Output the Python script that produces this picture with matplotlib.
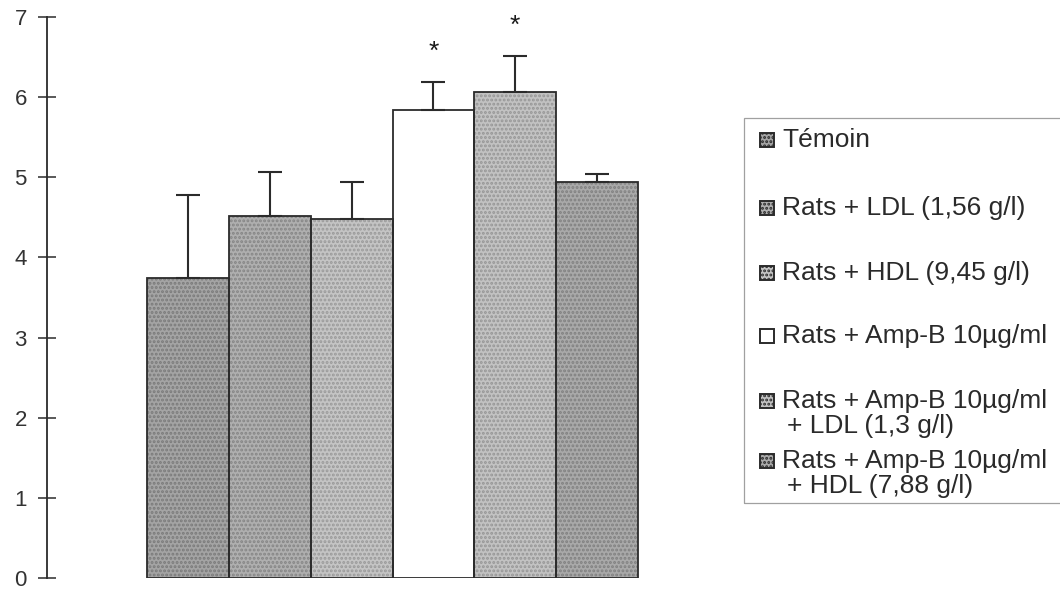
import matplotlib
matplotlib.use('Agg')
import matplotlib.pyplot as plt
from matplotlib.patches import Rectangle

# Groups, means and SEM (upper error only)
groups = ['Témoin',
          'Rats + LDL (1,56 g/l)',
          'Rats + HDL (9,45 g/l)',
          'Rats + Amp-B 10µg/ml',
          'Rats + Amp-B 10µg/ml\n+ LDL (1,3 g/l)',
          'Rats + Amp-B 10µg/ml\n+ HDL (7,88 g/l)']
means = [3.74, 4.52, 4.48, 5.84, 6.06, 4.94]
errors = [1.04, 0.55, 0.46, 0.35, 0.45, 0.10]
significant = [False, False, False, True, True, False]

# Grey stippled fills for each bar
fills = ['#a4a4a4', '#afafaf', '#c4c4c4', '#ffffff', '#c2c2c2', '#a9a9a9']
stipple = ['#7a7a7a', '#858585', '#999999', None, '#969696', '#808080']

y_ticks = [0, 1, 2, 3, 4, 5, 6, 7]

plt.rcParams['font.family'] = ['Liberation Sans', 'DejaVu Sans']
plt.rcParams['hatch.linewidth'] = 1.4

W, H = 1060, 592
fig = plt.figure(figsize=(W / 100, H / 100), dpi=100)
ax = fig.add_axes([47 / W, 14 / H, 653 / W, 561 / H])

x = list(range(len(means)))
ink = '#2b2b2b'

# stippled fill first, then the outline on top
for i in x:
    ax.bar(i, means[i], width=1.0, color=fills[i], linewidth=0,
           hatch='....' if stipple[i] else None,
           edgecolor=stipple[i] if stipple[i] else fills[i], zorder=2)
ax.bar(x, means, width=1.0, fill=False, edgecolor=ink, linewidth=1.3, zorder=3)

ax.errorbar(x, means, yerr=[[0] * len(errors), errors], fmt='none',
            ecolor=ink, elinewidth=1.5, capsize=8.5, capthick=1.5, zorder=4)

for i in x:
    if significant[i]:
        ax.text(i, means[i] + errors[i] + 0.38, '*', ha='center', va='center',
                fontsize=19, color='#1a1a1a')

ax.set_xlim(-1.724, 6.259)
ax.set_ylim(0, 7)
ax.set_yticks(y_ticks)
ax.set_xticks([])
for side in ['top', 'right', 'bottom']:
    ax.spines[side].set_visible(False)
ax.spines['left'].set_color(ink)
ax.spines['left'].set_linewidth(1.3)
ax.tick_params(axis='y', direction='inout', length=13, width=1.1, color=ink,
               labelsize=16, labelcolor='#333333', pad=8)

# legend box drawn in figure pixels
def fx(px):
    return px / W

def fy(py):
    return 1 - py / H

fig.patches.append(Rectangle((fx(744), fy(503)), fx(1075) - fx(744), fy(118) - fy(503),
                             transform=fig.transFigure, fill=False,
                             edgecolor='#a0a0a0', linewidth=0.9))

rows = [140, 208, 273, 336, 401, 461]
for i, label in enumerate(groups):
    cy = rows[i]
    fig.patches.append(Rectangle((fx(760), fy(cy + 7)), fx(14), 14 / H,
                                 transform=fig.transFigure,
                                 facecolor=fills[i],
                                 hatch='....' if stipple[i] else None,
                                 edgecolor=ink, linewidth=1.4))
    lines = label.split('\n')
    fig.text(fx(782), fy(cy), lines[0], fontsize=19, color='#2a2a2a',
             ha='left', va='center')
    if len(lines) > 1:
        fig.text(fx(787), fy(cy + 25), lines[1], fontsize=19, color='#2a2a2a',
                 ha='left', va='center')

fig.savefig('out.png', dpi=100)
